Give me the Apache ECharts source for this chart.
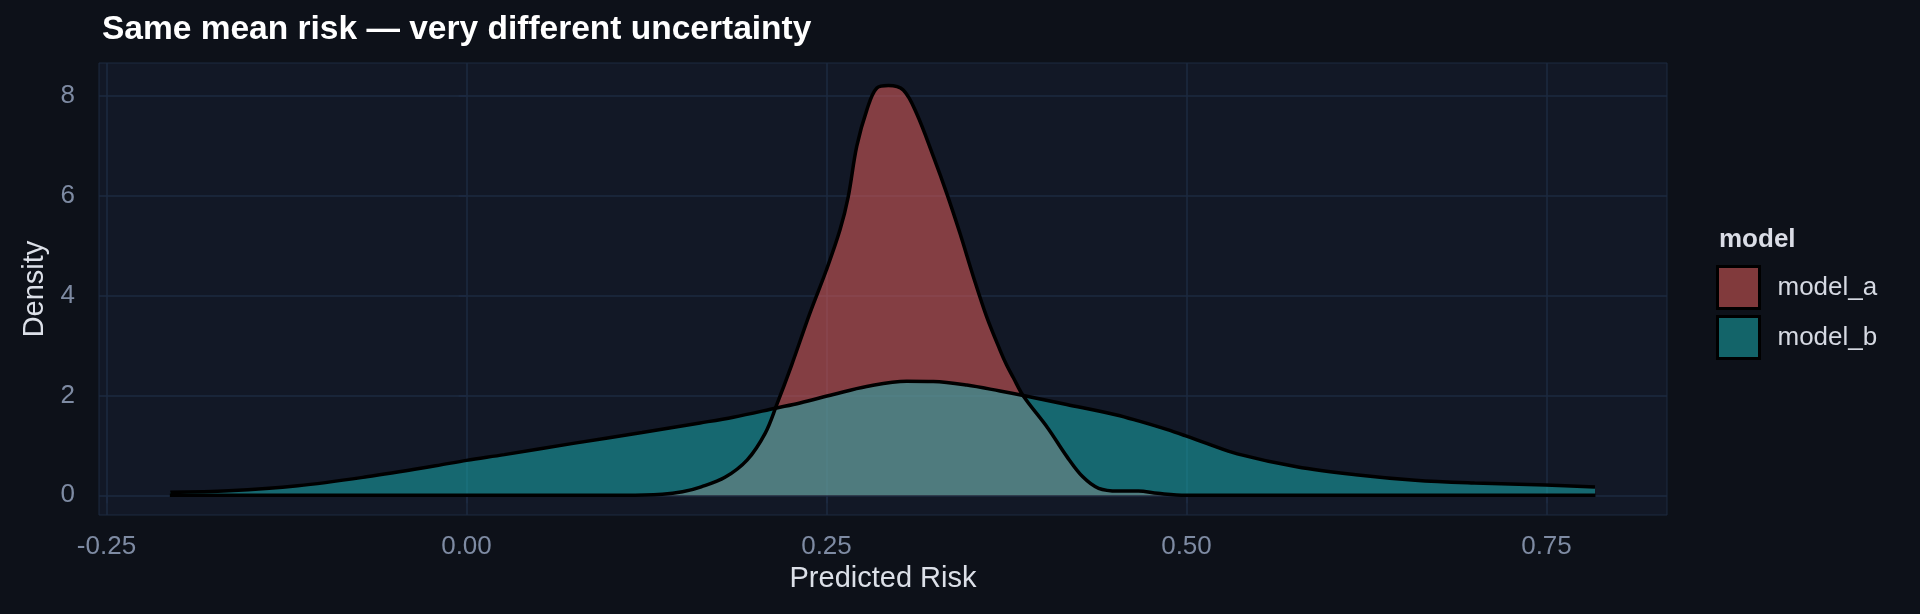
<!DOCTYPE html>
<html>
<head>
<meta charset="utf-8">
<script src="https://cdn.jsdelivr.net/npm/echarts@6/dist/echarts.min.js"></script>
<style>
html,body{margin:0;padding:0;background:#0d1119;}
#chart{width:1920px;height:614px;}
</style>
</head>
<body>
<div id="chart"></div>
<script>
// ---- data ----
const seriesNames = ['model_a', 'model_b'];
const riskA = [-0.206, 0.05, 0.11, 0.136, 0.15, 0.163, 0.1795, 0.195, 0.2074, 0.2154, 0.2258, 0.2385, 0.25, 0.2594, 0.2651, 0.271, 0.278, 0.285, 0.293, 0.3033, 0.3126, 0.3242, 0.3335, 0.3427, 0.352, 0.3612, 0.3705, 0.3751, 0.3797, 0.3867, 0.4034, 0.4171, 0.428, 0.439, 0.4528, 0.4666, 0.48, 0.4995, 0.6, 0.784];
const densityA = [0, 0, 0, 0.02, 0.07, 0.17, 0.36, 0.71, 1.24, 1.81, 2.61, 3.65, 4.52, 5.32, 5.98, 6.99, 7.72, 8.16, 8.21, 8.12, 7.65, 6.79, 6.05, 5.25, 4.38, 3.58, 2.91, 2.61, 2.36, 1.99, 1.36, 0.77, 0.37, 0.14, 0.086, 0.086, 0.04, 0, 0, 0];
const riskB = [-0.2057, -0.165, -0.1172, -0.0694, -0.0215, 0.0, 0.0263, 0.0741, 0.1219, 0.1622, 0.1853, 0.2154, 0.2316, 0.2547, 0.2779, 0.3057, 0.3242, 0.3474, 0.3705, 0.3867, 0.4168, 0.4515, 0.4666, 0.4862, 0.4995, 0.514, 0.5353, 0.5765, 0.6176, 0.6588, 0.70, 0.7494, 0.7837];
const densityB = [0.06, 0.09, 0.19, 0.37, 0.59, 0.70, 0.815, 1.04, 1.26, 1.45, 1.565, 1.75, 1.85, 2.02, 2.18, 2.285, 2.28, 2.21, 2.09, 2.00, 1.82, 1.61, 1.49, 1.32, 1.19, 1.04, 0.83, 0.57, 0.41, 0.30, 0.245, 0.205, 0.165];
const xTicks = [-0.25, 0, 0.25, 0.5, 0.75];
const xTickLabels = ['-0.25', '0.00', '0.25', '0.50', '0.75'];
const yTicks = [0, 2, 4, 6, 8];

const FONT = '"Liberation Sans", Arial, Helvetica, sans-serif';
const gridColor = '#1c2a41';
const fills = ['rgba(246,100,96,0.5)', 'rgba(26,184,186,0.5)'];

function pairs(xs, ys) { return xs.map((x, i) => [x, ys[i]]); }

const chart = echarts.init(document.getElementById('chart'), null, {renderer: 'canvas'});
chart.setOption({
  backgroundColor: '#0d1119',
  animation: false,
  title: [
    {text: 'Same mean risk \u2014 very different uncertainty', left: 97, top: 8,
     textStyle: {color: '#ffffff', fontSize: 33.5, fontWeight: 'bold', fontFamily: FONT}},
    {text: 'model', left: 1714, top: 222,
     textStyle: {color: '#dadde6', fontSize: 26, fontWeight: 'bold', fontFamily: FONT}}
  ],
  grid: {left: 99, right: 253, top: 63, bottom: 99, show: true,
         backgroundColor: '#121826', borderColor: gridColor, borderWidth: 1},
  legend: {
    orient: 'vertical', left: 1716, top: 265, padding: 0, itemWidth: 42, itemHeight: 42, itemGap: 5,
    icon: 'rect', itemStyle: {borderColor: '#000', borderWidth: 3},
    textStyle: {color: '#d5d9e2', fontSize: 26, fontFamily: FONT, padding: [0, 0, 0, 13]},
    data: seriesNames
  },
  xAxis: {
    type: 'value', min: -0.2552, max: 0.8337,
    name: 'Predicted Risk', nameLocation: 'middle', nameGap: 49,
    nameTextStyle: {color: '#dce0e8', fontSize: 29, fontFamily: FONT},
    axisLine: {show: false},
    axisTick: {show: true, length: 8, customValues: xTicks, lineStyle: {color: gridColor, width: 1.5}},
    axisLabel: {customValues: xTicks, margin: 19, color: '#7e8ba3', fontSize: 26, fontFamily: FONT,
      formatter: v => { const i = xTicks.findIndex(t => Math.abs(t - v) < 1e-9); return i >= 0 ? xTickLabels[i] : ''; }},
    splitLine: {show: true, lineStyle: {color: gridColor, width: 1.5}}
  },
  yAxis: {
    type: 'value', min: -0.395, max: 8.663,
    name: 'Density', nameLocation: 'middle', nameGap: 42, nameRotate: 90,
    nameTextStyle: {color: '#dce0e8', fontSize: 29, fontFamily: FONT},
    axisLine: {show: false},
    axisTick: {show: true, length: 8, customValues: yTicks, lineStyle: {color: gridColor, width: 1.5}},
    axisLabel: {customValues: yTicks, margin: 24, color: '#7e8ba3', fontSize: 26, fontFamily: FONT},
    splitLine: {show: true, lineStyle: {color: gridColor, width: 1.5}}
  },
  series: [
    {name: seriesNames[0], type: 'line', data: pairs(riskA, densityA), smooth: 0.35, showSymbol: false,
     itemStyle: {color: fills[0]}, lineStyle: {color: '#000', width: 3.5},
     areaStyle: {color: fills[0], opacity: 1, origin: 0}},
    {name: seriesNames[1], type: 'line', data: pairs(riskB, densityB), smooth: 0.35, showSymbol: false,
     itemStyle: {color: fills[1]}, lineStyle: {color: '#000', width: 3.5},
     areaStyle: {color: fills[1], opacity: 1, origin: 0}}
  ]
});
</script>
</body>
</html>
